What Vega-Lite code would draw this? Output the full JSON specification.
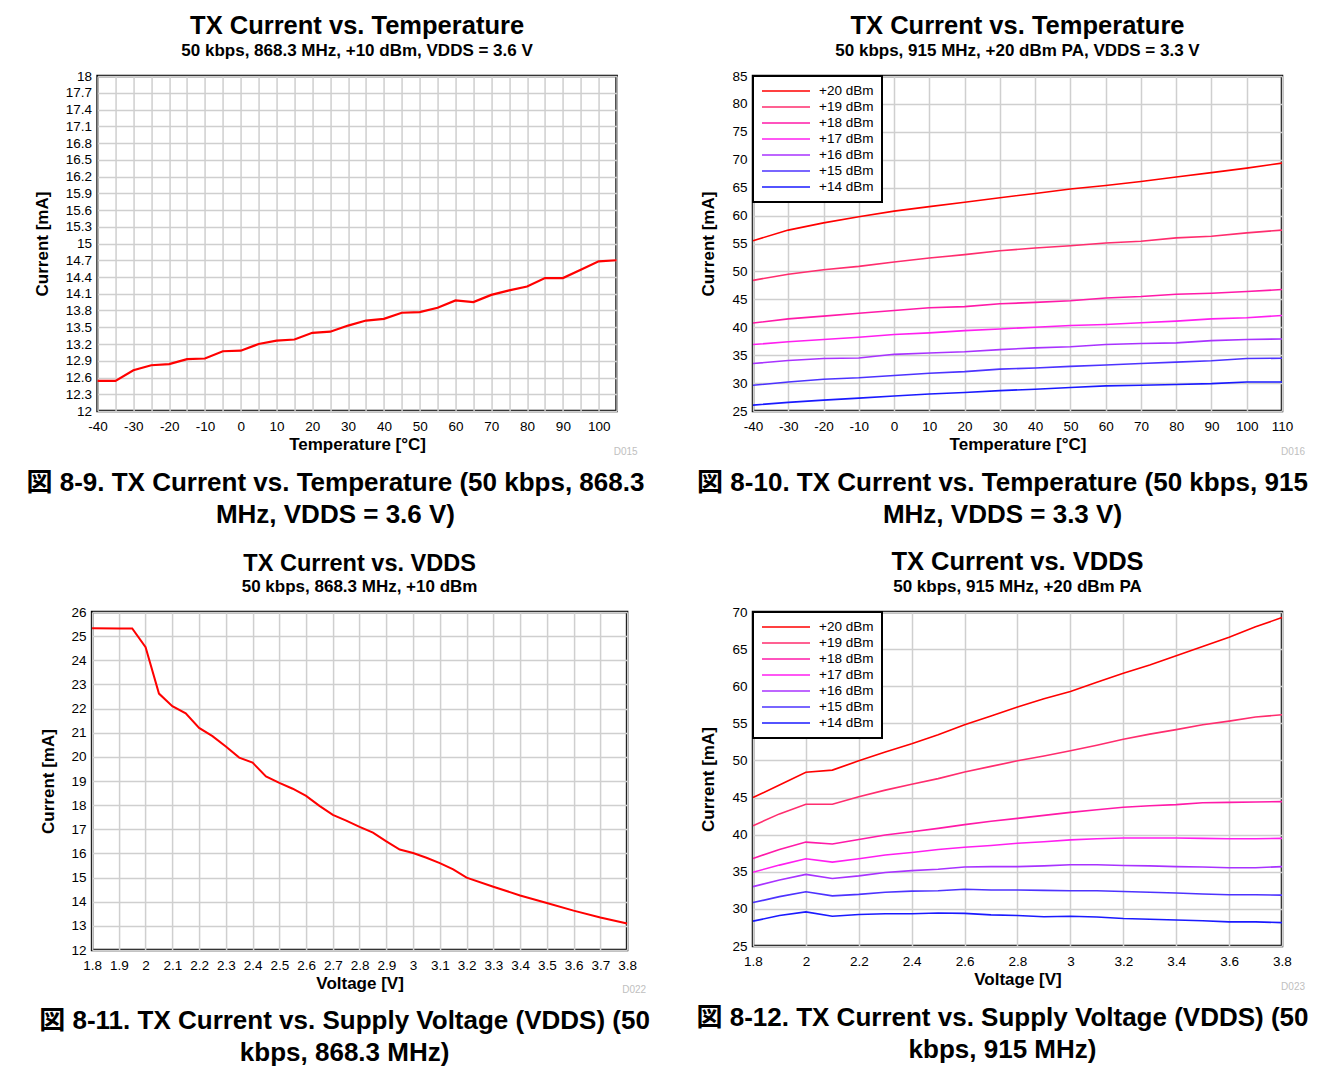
{
  "$schema": "https://vega.github.io/schema/vega-lite/v6.json",
  "background": "white",
  "padding": {"left": 26, "top": 12, "right": 0, "bottom": 0},
  "columns": 2,
  "align": "all",
  "center": {"row": false, "column": true},
  "spacing": {"row": 17, "column": 46},
  "resolve": {"scale": {"color": "independent"}, "legend": {"color": "independent"}},
  "datasets": {
    "p1": [
      {"t": -40, "i": 12.54}, {"t": -35, "i": 12.54}, {"t": -30, "i": 12.73}, {"t": -25, "i": 12.82},
      {"t": -20, "i": 12.84}, {"t": -15, "i": 12.93}, {"t": -10, "i": 12.94}, {"t": -5, "i": 13.07},
      {"t": 0, "i": 13.08}, {"t": 5, "i": 13.2}, {"t": 10, "i": 13.26}, {"t": 15, "i": 13.28},
      {"t": 20, "i": 13.4}, {"t": 25, "i": 13.42}, {"t": 30, "i": 13.53}, {"t": 35, "i": 13.62},
      {"t": 40, "i": 13.65}, {"t": 45, "i": 13.76}, {"t": 50, "i": 13.77}, {"t": 55, "i": 13.85},
      {"t": 60, "i": 13.98}, {"t": 65, "i": 13.95}, {"t": 70, "i": 14.08}, {"t": 75, "i": 14.16},
      {"t": 80, "i": 14.23}, {"t": 85, "i": 14.38}, {"t": 90, "i": 14.38}, {"t": 95, "i": 14.53},
      {"t": 100, "i": 14.68}, {"t": 105, "i": 14.7}
    ],
    "p2": [
      {"s": "+20 dBm", "t": -40, "i": 55.5}, {"s": "+20 dBm", "t": -30, "i": 57.4}, {"s": "+20 dBm", "t": -20, "i": 58.7}, {"s": "+20 dBm", "t": -10, "i": 59.8},
      {"s": "+20 dBm", "t": 0, "i": 60.8}, {"s": "+20 dBm", "t": 10, "i": 61.6}, {"s": "+20 dBm", "t": 20, "i": 62.4}, {"s": "+20 dBm", "t": 30, "i": 63.2},
      {"s": "+20 dBm", "t": 40, "i": 63.95}, {"s": "+20 dBm", "t": 50, "i": 64.75}, {"s": "+20 dBm", "t": 60, "i": 65.4}, {"s": "+20 dBm", "t": 70, "i": 66.1},
      {"s": "+20 dBm", "t": 80, "i": 66.9}, {"s": "+20 dBm", "t": 90, "i": 67.7}, {"s": "+20 dBm", "t": 100, "i": 68.5}, {"s": "+20 dBm", "t": 110, "i": 69.4},
      {"s": "+19 dBm", "t": -40, "i": 48.4}, {"s": "+19 dBm", "t": -30, "i": 49.5}, {"s": "+19 dBm", "t": -20, "i": 50.3}, {"s": "+19 dBm", "t": -10, "i": 50.9},
      {"s": "+19 dBm", "t": 0, "i": 51.7}, {"s": "+19 dBm", "t": 10, "i": 52.4}, {"s": "+19 dBm", "t": 20, "i": 53.0}, {"s": "+19 dBm", "t": 30, "i": 53.7},
      {"s": "+19 dBm", "t": 40, "i": 54.2}, {"s": "+19 dBm", "t": 50, "i": 54.6}, {"s": "+19 dBm", "t": 60, "i": 55.1}, {"s": "+19 dBm", "t": 70, "i": 55.4},
      {"s": "+19 dBm", "t": 80, "i": 56.0}, {"s": "+19 dBm", "t": 90, "i": 56.3}, {"s": "+19 dBm", "t": 100, "i": 56.9}, {"s": "+19 dBm", "t": 110, "i": 57.4},
      {"s": "+18 dBm", "t": -40, "i": 40.75}, {"s": "+18 dBm", "t": -30, "i": 41.5}, {"s": "+18 dBm", "t": -20, "i": 42.0}, {"s": "+18 dBm", "t": -10, "i": 42.5},
      {"s": "+18 dBm", "t": 0, "i": 43.0}, {"s": "+18 dBm", "t": 10, "i": 43.5}, {"s": "+18 dBm", "t": 20, "i": 43.7}, {"s": "+18 dBm", "t": 30, "i": 44.2},
      {"s": "+18 dBm", "t": 40, "i": 44.45}, {"s": "+18 dBm", "t": 50, "i": 44.75}, {"s": "+18 dBm", "t": 60, "i": 45.25}, {"s": "+18 dBm", "t": 70, "i": 45.5},
      {"s": "+18 dBm", "t": 80, "i": 45.9}, {"s": "+18 dBm", "t": 90, "i": 46.1}, {"s": "+18 dBm", "t": 100, "i": 46.4}, {"s": "+18 dBm", "t": 110, "i": 46.75},
      {"s": "+17 dBm", "t": -40, "i": 36.9}, {"s": "+17 dBm", "t": -30, "i": 37.4}, {"s": "+17 dBm", "t": -20, "i": 37.8}, {"s": "+17 dBm", "t": -10, "i": 38.2},
      {"s": "+17 dBm", "t": 0, "i": 38.7}, {"s": "+17 dBm", "t": 10, "i": 39.0}, {"s": "+17 dBm", "t": 20, "i": 39.4}, {"s": "+17 dBm", "t": 30, "i": 39.7},
      {"s": "+17 dBm", "t": 40, "i": 40.0}, {"s": "+17 dBm", "t": 50, "i": 40.3}, {"s": "+17 dBm", "t": 60, "i": 40.5}, {"s": "+17 dBm", "t": 70, "i": 40.8},
      {"s": "+17 dBm", "t": 80, "i": 41.1}, {"s": "+17 dBm", "t": 90, "i": 41.5}, {"s": "+17 dBm", "t": 100, "i": 41.7}, {"s": "+17 dBm", "t": 110, "i": 42.1},
      {"s": "+16 dBm", "t": -40, "i": 33.5}, {"s": "+16 dBm", "t": -30, "i": 34.05}, {"s": "+16 dBm", "t": -20, "i": 34.4}, {"s": "+16 dBm", "t": -10, "i": 34.5},
      {"s": "+16 dBm", "t": 0, "i": 35.15}, {"s": "+16 dBm", "t": 10, "i": 35.4}, {"s": "+16 dBm", "t": 20, "i": 35.6}, {"s": "+16 dBm", "t": 30, "i": 36.0},
      {"s": "+16 dBm", "t": 40, "i": 36.3}, {"s": "+16 dBm", "t": 50, "i": 36.5}, {"s": "+16 dBm", "t": 60, "i": 36.9}, {"s": "+16 dBm", "t": 70, "i": 37.1},
      {"s": "+16 dBm", "t": 80, "i": 37.2}, {"s": "+16 dBm", "t": 90, "i": 37.6}, {"s": "+16 dBm", "t": 100, "i": 37.8}, {"s": "+16 dBm", "t": 110, "i": 37.9},
      {"s": "+15 dBm", "t": -40, "i": 29.6}, {"s": "+15 dBm", "t": -30, "i": 30.2}, {"s": "+15 dBm", "t": -20, "i": 30.7}, {"s": "+15 dBm", "t": -10, "i": 30.95},
      {"s": "+15 dBm", "t": 0, "i": 31.35}, {"s": "+15 dBm", "t": 10, "i": 31.75}, {"s": "+15 dBm", "t": 20, "i": 32.05}, {"s": "+15 dBm", "t": 30, "i": 32.5},
      {"s": "+15 dBm", "t": 40, "i": 32.7}, {"s": "+15 dBm", "t": 50, "i": 33.0}, {"s": "+15 dBm", "t": 60, "i": 33.25}, {"s": "+15 dBm", "t": 70, "i": 33.5},
      {"s": "+15 dBm", "t": 80, "i": 33.75}, {"s": "+15 dBm", "t": 90, "i": 34.0}, {"s": "+15 dBm", "t": 100, "i": 34.4}, {"s": "+15 dBm", "t": 110, "i": 34.45},
      {"s": "+14 dBm", "t": -40, "i": 26.05}, {"s": "+14 dBm", "t": -30, "i": 26.55}, {"s": "+14 dBm", "t": -20, "i": 26.95}, {"s": "+14 dBm", "t": -10, "i": 27.3},
      {"s": "+14 dBm", "t": 0, "i": 27.7}, {"s": "+14 dBm", "t": 10, "i": 28.05}, {"s": "+14 dBm", "t": 20, "i": 28.3}, {"s": "+14 dBm", "t": 30, "i": 28.65},
      {"s": "+14 dBm", "t": 40, "i": 28.9}, {"s": "+14 dBm", "t": 50, "i": 29.2}, {"s": "+14 dBm", "t": 60, "i": 29.5}, {"s": "+14 dBm", "t": 70, "i": 29.6},
      {"s": "+14 dBm", "t": 80, "i": 29.75}, {"s": "+14 dBm", "t": 90, "i": 29.9}, {"s": "+14 dBm", "t": 100, "i": 30.2}, {"s": "+14 dBm", "t": 110, "i": 30.2}
    ],
    "p3": [
      {"v": 1.8, "i": 25.33}, {"v": 1.9, "i": 25.32}, {"v": 1.95, "i": 25.32}, {"v": 2.0, "i": 24.54},
      {"v": 2.05, "i": 22.62}, {"v": 2.1, "i": 22.1}, {"v": 2.15, "i": 21.8}, {"v": 2.2, "i": 21.2},
      {"v": 2.25, "i": 20.86}, {"v": 2.3, "i": 20.43}, {"v": 2.35, "i": 19.97}, {"v": 2.4, "i": 19.76},
      {"v": 2.45, "i": 19.19}, {"v": 2.5, "i": 18.92}, {"v": 2.55, "i": 18.68}, {"v": 2.6, "i": 18.38},
      {"v": 2.65, "i": 17.97}, {"v": 2.7, "i": 17.6}, {"v": 2.75, "i": 17.36}, {"v": 2.8, "i": 17.1},
      {"v": 2.85, "i": 16.86}, {"v": 2.9, "i": 16.5}, {"v": 2.95, "i": 16.16}, {"v": 3.0, "i": 16.02},
      {"v": 3.05, "i": 15.82}, {"v": 3.1, "i": 15.6}, {"v": 3.15, "i": 15.34}, {"v": 3.2, "i": 15.0},
      {"v": 3.3, "i": 14.62}, {"v": 3.4, "i": 14.26}, {"v": 3.5, "i": 13.95}, {"v": 3.6, "i": 13.63},
      {"v": 3.7, "i": 13.35}, {"v": 3.8, "i": 13.1}
    ],
    "p4": [
      {"s": "+20 dBm", "v": 1.8, "i": 45.0}, {"s": "+20 dBm", "v": 1.9, "i": 46.7}, {"s": "+20 dBm", "v": 2.0, "i": 48.4}, {"s": "+20 dBm", "v": 2.1, "i": 48.7},
      {"s": "+20 dBm", "v": 2.2, "i": 49.95}, {"s": "+20 dBm", "v": 2.3, "i": 51.15}, {"s": "+20 dBm", "v": 2.4, "i": 52.25}, {"s": "+20 dBm", "v": 2.5, "i": 53.45},
      {"s": "+20 dBm", "v": 2.6, "i": 54.8}, {"s": "+20 dBm", "v": 2.7, "i": 56.0}, {"s": "+20 dBm", "v": 2.8, "i": 57.2}, {"s": "+20 dBm", "v": 2.9, "i": 58.3},
      {"s": "+20 dBm", "v": 3.0, "i": 59.3}, {"s": "+20 dBm", "v": 3.1, "i": 60.55}, {"s": "+20 dBm", "v": 3.2, "i": 61.75}, {"s": "+20 dBm", "v": 3.3, "i": 62.85},
      {"s": "+20 dBm", "v": 3.4, "i": 64.1}, {"s": "+20 dBm", "v": 3.5, "i": 65.35}, {"s": "+20 dBm", "v": 3.6, "i": 66.6}, {"s": "+20 dBm", "v": 3.7, "i": 68.0},
      {"s": "+20 dBm", "v": 3.8, "i": 69.25},
      {"s": "+19 dBm", "v": 1.8, "i": 41.2}, {"s": "+19 dBm", "v": 1.9, "i": 42.8}, {"s": "+19 dBm", "v": 2.0, "i": 44.1}, {"s": "+19 dBm", "v": 2.1, "i": 44.1},
      {"s": "+19 dBm", "v": 2.2, "i": 45.1}, {"s": "+19 dBm", "v": 2.3, "i": 46.0}, {"s": "+19 dBm", "v": 2.4, "i": 46.8}, {"s": "+19 dBm", "v": 2.5, "i": 47.55},
      {"s": "+19 dBm", "v": 2.6, "i": 48.45}, {"s": "+19 dBm", "v": 2.7, "i": 49.2}, {"s": "+19 dBm", "v": 2.8, "i": 49.95}, {"s": "+19 dBm", "v": 2.9, "i": 50.6},
      {"s": "+19 dBm", "v": 3.0, "i": 51.3}, {"s": "+19 dBm", "v": 3.1, "i": 52.05}, {"s": "+19 dBm", "v": 3.2, "i": 52.85}, {"s": "+19 dBm", "v": 3.3, "i": 53.55},
      {"s": "+19 dBm", "v": 3.4, "i": 54.15}, {"s": "+19 dBm", "v": 3.5, "i": 54.8}, {"s": "+19 dBm", "v": 3.6, "i": 55.3}, {"s": "+19 dBm", "v": 3.7, "i": 55.85},
      {"s": "+19 dBm", "v": 3.8, "i": 56.15},
      {"s": "+18 dBm", "v": 1.8, "i": 36.8}, {"s": "+18 dBm", "v": 1.9, "i": 38.0}, {"s": "+18 dBm", "v": 2.0, "i": 39.0}, {"s": "+18 dBm", "v": 2.1, "i": 38.75},
      {"s": "+18 dBm", "v": 2.2, "i": 39.35}, {"s": "+18 dBm", "v": 2.3, "i": 39.95}, {"s": "+18 dBm", "v": 2.4, "i": 40.4}, {"s": "+18 dBm", "v": 2.5, "i": 40.85},
      {"s": "+18 dBm", "v": 2.6, "i": 41.35}, {"s": "+18 dBm", "v": 2.7, "i": 41.8}, {"s": "+18 dBm", "v": 2.8, "i": 42.2}, {"s": "+18 dBm", "v": 2.9, "i": 42.6},
      {"s": "+18 dBm", "v": 3.0, "i": 43.0}, {"s": "+18 dBm", "v": 3.1, "i": 43.35}, {"s": "+18 dBm", "v": 3.2, "i": 43.7}, {"s": "+18 dBm", "v": 3.3, "i": 43.9},
      {"s": "+18 dBm", "v": 3.4, "i": 44.05}, {"s": "+18 dBm", "v": 3.5, "i": 44.3}, {"s": "+18 dBm", "v": 3.6, "i": 44.35}, {"s": "+18 dBm", "v": 3.7, "i": 44.4},
      {"s": "+18 dBm", "v": 3.8, "i": 44.45},
      {"s": "+17 dBm", "v": 1.8, "i": 34.95}, {"s": "+17 dBm", "v": 1.9, "i": 35.9}, {"s": "+17 dBm", "v": 2.0, "i": 36.75}, {"s": "+17 dBm", "v": 2.1, "i": 36.3},
      {"s": "+17 dBm", "v": 2.2, "i": 36.75}, {"s": "+17 dBm", "v": 2.3, "i": 37.25}, {"s": "+17 dBm", "v": 2.4, "i": 37.6}, {"s": "+17 dBm", "v": 2.5, "i": 38.0},
      {"s": "+17 dBm", "v": 2.6, "i": 38.3}, {"s": "+17 dBm", "v": 2.7, "i": 38.55}, {"s": "+17 dBm", "v": 2.8, "i": 38.85}, {"s": "+17 dBm", "v": 2.9, "i": 39.05},
      {"s": "+17 dBm", "v": 3.0, "i": 39.3}, {"s": "+17 dBm", "v": 3.1, "i": 39.45}, {"s": "+17 dBm", "v": 3.2, "i": 39.55}, {"s": "+17 dBm", "v": 3.3, "i": 39.55},
      {"s": "+17 dBm", "v": 3.4, "i": 39.55}, {"s": "+17 dBm", "v": 3.5, "i": 39.5}, {"s": "+17 dBm", "v": 3.6, "i": 39.45}, {"s": "+17 dBm", "v": 3.7, "i": 39.45},
      {"s": "+17 dBm", "v": 3.8, "i": 39.5},
      {"s": "+16 dBm", "v": 1.8, "i": 33.0}, {"s": "+16 dBm", "v": 1.9, "i": 33.9}, {"s": "+16 dBm", "v": 2.0, "i": 34.65}, {"s": "+16 dBm", "v": 2.1, "i": 34.1},
      {"s": "+16 dBm", "v": 2.2, "i": 34.45}, {"s": "+16 dBm", "v": 2.3, "i": 34.9}, {"s": "+16 dBm", "v": 2.4, "i": 35.15}, {"s": "+16 dBm", "v": 2.5, "i": 35.35},
      {"s": "+16 dBm", "v": 2.6, "i": 35.65}, {"s": "+16 dBm", "v": 2.7, "i": 35.7}, {"s": "+16 dBm", "v": 2.8, "i": 35.7}, {"s": "+16 dBm", "v": 2.9, "i": 35.8},
      {"s": "+16 dBm", "v": 3.0, "i": 35.95}, {"s": "+16 dBm", "v": 3.1, "i": 35.95}, {"s": "+16 dBm", "v": 3.2, "i": 35.85}, {"s": "+16 dBm", "v": 3.3, "i": 35.8},
      {"s": "+16 dBm", "v": 3.4, "i": 35.7}, {"s": "+16 dBm", "v": 3.5, "i": 35.65}, {"s": "+16 dBm", "v": 3.6, "i": 35.55}, {"s": "+16 dBm", "v": 3.7, "i": 35.55},
      {"s": "+16 dBm", "v": 3.8, "i": 35.7},
      {"s": "+15 dBm", "v": 1.8, "i": 30.85}, {"s": "+15 dBm", "v": 1.9, "i": 31.65}, {"s": "+15 dBm", "v": 2.0, "i": 32.3}, {"s": "+15 dBm", "v": 2.1, "i": 31.75},
      {"s": "+15 dBm", "v": 2.2, "i": 31.95}, {"s": "+15 dBm", "v": 2.3, "i": 32.25}, {"s": "+15 dBm", "v": 2.4, "i": 32.4}, {"s": "+15 dBm", "v": 2.5, "i": 32.45},
      {"s": "+15 dBm", "v": 2.6, "i": 32.65}, {"s": "+15 dBm", "v": 2.7, "i": 32.55}, {"s": "+15 dBm", "v": 2.8, "i": 32.55}, {"s": "+15 dBm", "v": 2.9, "i": 32.5},
      {"s": "+15 dBm", "v": 3.0, "i": 32.45}, {"s": "+15 dBm", "v": 3.1, "i": 32.45}, {"s": "+15 dBm", "v": 3.2, "i": 32.35}, {"s": "+15 dBm", "v": 3.3, "i": 32.25},
      {"s": "+15 dBm", "v": 3.4, "i": 32.15}, {"s": "+15 dBm", "v": 3.5, "i": 32.0}, {"s": "+15 dBm", "v": 3.6, "i": 31.9}, {"s": "+15 dBm", "v": 3.7, "i": 31.9},
      {"s": "+15 dBm", "v": 3.8, "i": 31.85},
      {"s": "+14 dBm", "v": 1.8, "i": 28.35}, {"s": "+14 dBm", "v": 1.9, "i": 29.1}, {"s": "+14 dBm", "v": 2.0, "i": 29.6}, {"s": "+14 dBm", "v": 2.1, "i": 29.0},
      {"s": "+14 dBm", "v": 2.2, "i": 29.25}, {"s": "+14 dBm", "v": 2.3, "i": 29.35}, {"s": "+14 dBm", "v": 2.4, "i": 29.35}, {"s": "+14 dBm", "v": 2.5, "i": 29.45},
      {"s": "+14 dBm", "v": 2.6, "i": 29.4}, {"s": "+14 dBm", "v": 2.7, "i": 29.2}, {"s": "+14 dBm", "v": 2.8, "i": 29.1}, {"s": "+14 dBm", "v": 2.9, "i": 28.95},
      {"s": "+14 dBm", "v": 3.0, "i": 29.0}, {"s": "+14 dBm", "v": 3.1, "i": 28.9}, {"s": "+14 dBm", "v": 3.2, "i": 28.7}, {"s": "+14 dBm", "v": 3.3, "i": 28.6},
      {"s": "+14 dBm", "v": 3.4, "i": 28.5}, {"s": "+14 dBm", "v": 3.5, "i": 28.4}, {"s": "+14 dBm", "v": 3.6, "i": 28.25}, {"s": "+14 dBm", "v": 3.7, "i": 28.25},
      {"s": "+14 dBm", "v": 3.8, "i": 28.15}
    ]
  },
  "concat": [
    {
      "title": {"text": ["図 8-9. TX Current vs. Temperature (50 kbps, 868.3", "MHz, VDDS = 3.6 V)"], "orient": "bottom", "frame": "bounds", "anchor": "middle", "fontSize": 26, "lineHeight": 32, "offset": 12},
      "resolve": {"scale": {"color": "independent"}, "legend": {"color": "independent"}},
      "vconcat": [
        {
          "width": 519, "height": 335,
          "title": {"text": "TX Current vs. Temperature", "subtitle": "50 kbps, 868.3 MHz, +10 dBm, VDDS = 3.6 V"},
          "layer": [
            {
              "data": {"name": "p1"},
              "mark": {"type": "line", "color": "#ff0000", "strokeWidth": 2.2},
              "encoding": {
                "x": {"field": "t", "type": "quantitative", "scale": {"domain": [-40, 105], "nice": false, "zero": false},
                  "axis": {"title": "Temperature [°C]", "tickCount": 200, "values": [-40, -35, -30, -25, -20, -15, -10, -5, 0, 5, 10, 15, 20, 25, 30, 35, 40, 45, 50, 55, 60, 65, 70, 75, 80, 85, 90, 95, 100, 105], "labelExpr": "datum.value % 10 === 0 ? toString(datum.value) : ''"}},
                "y": {"field": "i", "type": "quantitative", "scale": {"domain": [12, 18], "nice": false, "zero": false},
                  "axis": {"title": "Current [mA]", "tickCount": 200, "values": [12, 12.3, 12.6, 12.9, 13.2, 13.5, 13.8, 14.1, 14.4, 14.7, 15, 15.3, 15.6, 15.9, 16.2, 16.5, 16.8, 17.1, 17.4, 17.7, 18], "labelExpr": "toString(datum.value)"}}
              }
            },
            {
              "data": {"values": [{"code": "D015"}]},
              "mark": {"type": "text", "align": "right", "baseline": "middle", "dx": 21, "dy": 41, "fontSize": 10, "color": "#c0c0c0"},
              "encoding": {"x": {"datum": 105, "type": "quantitative"}, "y": {"datum": 12, "type": "quantitative"}, "text": {"field": "code"}}
            }
          ]
        }
      ]
    },
    {
      "title": {"text": ["図 8-10. TX Current vs. Temperature (50 kbps, 915", "MHz, VDDS = 3.3 V)"], "orient": "bottom", "frame": "bounds", "anchor": "middle", "fontSize": 26, "lineHeight": 32, "offset": 12},
      "resolve": {"scale": {"color": "independent"}, "legend": {"color": "independent"}},
      "vconcat": [
        {
          "width": 529, "height": 335,
          "title": {"text": "TX Current vs. Temperature", "subtitle": "50 kbps, 915 MHz, +20 dBm  PA, VDDS = 3.3 V"},
          "layer": [
            {
              "data": {"name": "p2"},
              "mark": {"type": "line", "strokeWidth": 1.6},
              "encoding": {
                "x": {"field": "t", "type": "quantitative", "scale": {"domain": [-40, 110], "nice": false, "zero": false},
                  "axis": {"title": "Temperature [°C]", "tickCount": 200, "values": [-40, -30, -20, -10, 0, 10, 20, 30, 40, 50, 60, 70, 80, 90, 100, 110], "labelExpr": "toString(datum.value)"}},
                "y": {"field": "i", "type": "quantitative", "scale": {"domain": [25, 85], "nice": false, "zero": false},
                  "axis": {"title": "Current [mA]", "tickCount": 200, "values": [25, 30, 35, 40, 45, 50, 55, 60, 65, 70, 75, 80, 85], "labelExpr": "toString(datum.value)"}},
                "color": {"field": "s", "type": "nominal", "title": null,
                  "scale": {"domain": ["+20 dBm", "+19 dBm", "+18 dBm", "+17 dBm", "+16 dBm", "+15 dBm", "+14 dBm"], "range": ["#ff0000", "#ff2d6e", "#ff1aa8", "#ff1ff0", "#a833ff", "#4d33ff", "#1a1aff"]}}
              }
            },
            {
              "data": {"values": [{"code": "D016"}]},
              "mark": {"type": "text", "align": "right", "baseline": "middle", "dx": 23, "dy": 41, "fontSize": 10, "color": "#c0c0c0"},
              "encoding": {"x": {"datum": 110, "type": "quantitative"}, "y": {"datum": 25, "type": "quantitative"}, "text": {"field": "code"}}
            }
          ]
        }
      ]
    },
    {
      "title": {"text": ["図 8-11. TX Current vs. Supply Voltage (VDDS) (50", "kbps, 868.3 MHz)"], "orient": "bottom", "frame": "bounds", "anchor": "middle", "fontSize": 26, "lineHeight": 32, "offset": 12, "dx": 2},
      "resolve": {"scale": {"color": "independent"}, "legend": {"color": "independent"}},
      "vconcat": [
        {
          "width": 535, "height": 338,
          "title": {"text": "TX Current vs. VDDS", "subtitle": "50 kbps, 868.3 MHz, +10 dBm", "fontSize": 23.5},
          "layer": [
            {
              "data": {"name": "p3"},
              "mark": {"type": "line", "color": "#ff0000", "strokeWidth": 2},
              "encoding": {
                "x": {"field": "v", "type": "quantitative", "scale": {"domain": [1.8, 3.8], "nice": false, "zero": false},
                  "axis": {"title": "Voltage [V]", "tickCount": 200, "values": [1.8, 1.9, 2, 2.1, 2.2, 2.3, 2.4, 2.5, 2.6, 2.7, 2.8, 2.9, 3, 3.1, 3.2, 3.3, 3.4, 3.5, 3.6, 3.7, 3.8], "labelExpr": "toString(datum.value)"}},
                "y": {"field": "i", "type": "quantitative", "scale": {"domain": [12, 26], "nice": false, "zero": false},
                  "axis": {"title": "Current [mA]", "tickCount": 200, "values": [12, 13, 14, 15, 16, 17, 18, 19, 20, 21, 22, 23, 24, 25, 26], "labelExpr": "toString(datum.value)"}}
              }
            },
            {
              "data": {"values": [{"code": "D022"}]},
              "mark": {"type": "text", "align": "right", "baseline": "middle", "dx": 19, "dy": 40, "fontSize": 10, "color": "#c0c0c0"},
              "encoding": {"x": {"datum": 3.8, "type": "quantitative"}, "y": {"datum": 12, "type": "quantitative"}, "text": {"field": "code"}}
            }
          ]
        }
      ]
    },
    {
      "title": {"text": ["図 8-12. TX Current vs. Supply Voltage (VDDS) (50", "kbps, 915 MHz)"], "orient": "bottom", "frame": "bounds", "anchor": "middle", "fontSize": 26, "lineHeight": 32, "offset": 12},
      "resolve": {"scale": {"color": "independent"}, "legend": {"color": "independent"}},
      "vconcat": [
        {
          "width": 529, "height": 334,
          "title": {"text": "TX Current vs. VDDS", "subtitle": "50 kbps, 915 MHz, +20 dBm PA"},
          "layer": [
            {
              "data": {"name": "p4"},
              "mark": {"type": "line", "strokeWidth": 1.6},
              "encoding": {
                "x": {"field": "v", "type": "quantitative", "scale": {"domain": [1.8, 3.8], "nice": false, "zero": false},
                  "axis": {"title": "Voltage [V]", "tickCount": 200, "values": [1.8, 2, 2.2, 2.4, 2.6, 2.8, 3, 3.2, 3.4, 3.6, 3.8], "labelExpr": "toString(datum.value)"}},
                "y": {"field": "i", "type": "quantitative", "scale": {"domain": [25, 70], "nice": false, "zero": false},
                  "axis": {"title": "Current [mA]", "tickCount": 200, "values": [25, 30, 35, 40, 45, 50, 55, 60, 65, 70], "labelExpr": "toString(datum.value)"}},
                "color": {"field": "s", "type": "nominal", "title": null,
                  "scale": {"domain": ["+20 dBm", "+19 dBm", "+18 dBm", "+17 dBm", "+16 dBm", "+15 dBm", "+14 dBm"], "range": ["#ff0000", "#ff2d6e", "#ff1aa8", "#ff1ff0", "#a833ff", "#4d33ff", "#1a1aff"]}}
              }
            },
            {
              "data": {"values": [{"code": "D023"}]},
              "mark": {"type": "text", "align": "right", "baseline": "middle", "dx": 23, "dy": 41, "fontSize": 10, "color": "#c0c0c0"},
              "encoding": {"x": {"datum": 3.8, "type": "quantitative"}, "y": {"datum": 25, "type": "quantitative"}, "text": {"field": "code"}}
            }
          ]
        }
      ]
    }
  ],
  "config": {
    "font": "Liberation Sans, Noto Sans CJK JP, sans-serif",
    "view": {"stroke": "#000000", "strokeWidth": 2.5},
    "title": {"color": "#000000", "fontSize": 25.5, "fontWeight": "bold", "subtitleFontSize": 17, "subtitleFontWeight": "bold", "subtitleColor": "#000000", "subtitlePadding": 4, "offset": 10, "anchor": "middle"},
    "axis": {"domain": false, "ticks": false, "grid": true, "gridColor": "#cfcfcf", "gridWidth": 1.5, "labelFont": "Liberation Sans Narrow, Liberation Sans, sans-serif", "labelFontSize": 13.5, "labelColor": "#000000", "labelFlush": false, "labelOverlap": false, "labelPadding": 8, "titleFontSize": 17, "titleColor": "#000000", "titleFontWeight": "bold", "titlePadding": 4},
    "axisY": {"labelPadding": 6, "titlePadding": 14},
    "legend": {"orient": "top-left", "offset": 0, "strokeColor": "#000000", "strokeWidth": 2, "fillColor": "#ffffff", "padding": 8, "symbolType": "M-1,0H7", "symbolSize": 144, "symbolStrokeWidth": 1.6, "labelFontSize": 13.5, "labelColor": "#000000", "labelOffset": 44, "rowPadding": 2}
  }
}
